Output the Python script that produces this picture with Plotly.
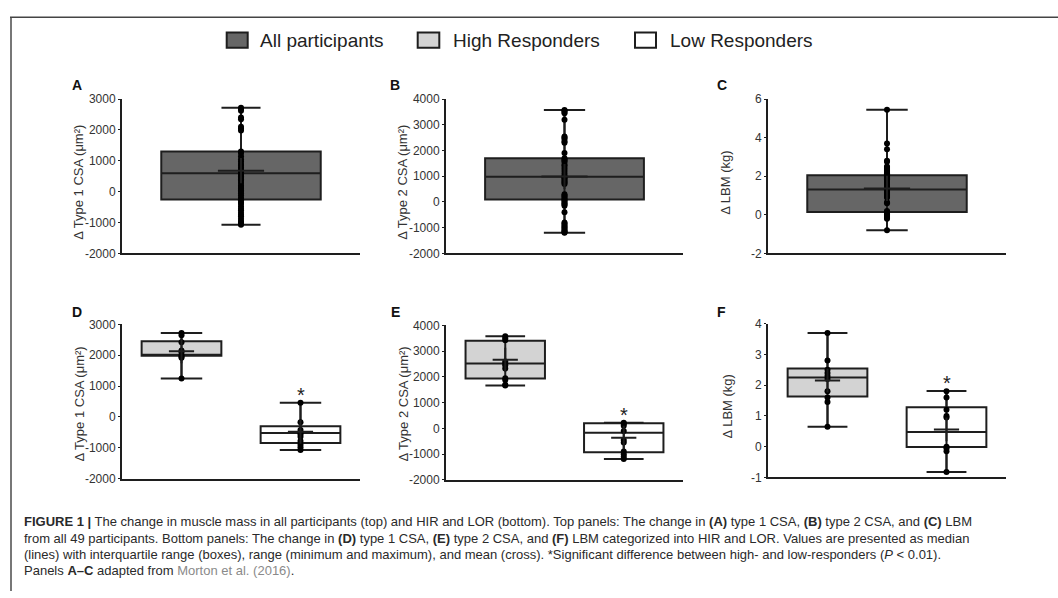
import plotly.graph_objects as go

W, H = 1058, 598

# ---------------- data ----------------
legend_labels = ["All participants", "High Responders", "Low Responders"]
group_colors = ["#666666", "#d3d3d3", "#ffffff"]

# top panels: all participants (49 each)
a_vals = [2720, 2680, 2620, 2400, 2350, 2100, 2050, 1980, 1300, 1250, 1150, 1050, 980, 900, 850,
          780, 720, 680, 620, 600, 560, 500, 450, 400, 350, 280, 200, 150, 100, 50, 0, -50, -120,
          -200, -250, -280, -350, -400, -480, -550, -600, -680, -750, -800, -880, -950, -1000,
          -1050, -1070]
b_vals = [3580, 3550, 3500, 3450, 3200, 2550, 2500, 2450, 2350, 2300, 1900, 1700, 1650, 1600, 1550,
          1450, 1400, 1300, 1200, 1100, 1000, 980, 950, 900, 850, 800, 750, 700, 300, 250, 200, 150,
          100, 50, 0, -50, -100, -150, -400, -800, -850, -900, -950, -1000, -1050, -1100, -1150,
          -1180, -1200]
c_vals = [5.45, 3.7, 3.4, 2.8, 2.75, 2.5, 2.45, 2.4, 2.35, 2.3, 2.25, 2.2, 2.15, 2.1, 2.0, 1.95,
          1.9, 1.85, 1.8, 1.7, 1.65, 1.6, 1.55, 1.5, 1.45, 1.4, 1.35, 1.3, 1.25, 1.2, 1.15, 1.1, 1.05,
          1.0, 0.95, 0.9, 0.65, 0.6, 0.2, 0.15, 0.1, 0.05, 0.0, 0.0, -0.05, -0.1, -0.15, -0.2, -0.8]
# stats: [min, q1, median, q3, max, mean]
a_stats = [-1070, -250, 600, 1300, 2720, 680]
b_stats = [-1200, 100, 980, 1700, 3580, 990]
c_stats = [-0.8, 0.14, 1.31, 2.05, 5.45, 1.37]

# bottom panels: high (HIR) and low (LOR) responders
d_hir_vals = [2720, 2650, 2420, 2150, 2100, 2000, 1950, 1920, 1250]
d_lor_vals = [460, -170, -420, -500, -560, -640, -780, -900, -980, -1070]
e_hir_vals = [3580, 3500, 3420, 2600, 2520, 2450, 2330, 1950, 1880, 1700, 1670]
e_lor_vals = [220, 180, 100, -100, -450, -550, -900, -1000, -1100, -1190]
f_hir_vals = [3.7, 2.8, 2.5, 2.4, 2.3, 2.2, 1.8, 1.6, 1.45, 0.65]
f_lor_vals = [1.8, 1.6, 1.2, 1.0, 0.95, 0.0, -0.05, -0.15, -0.82]
d_hir_stats = [1250, 1980, 2000, 2450, 2720, 2130]
d_lor_stats = [-1070, -840, -520, -300, 460, -480]
e_hir_stats = [1670, 1940, 2520, 3400, 3580, 2670]
e_lor_stats = [-1190, -920, -170, 200, 220, -360]
f_hir_stats = [0.65, 1.63, 2.25, 2.54, 3.7, 2.15]
f_lor_stats = [-0.82, -0.01, 0.48, 1.28, 1.81, 0.56]

# axes: ticks and titles
csa1_ticks = [-2000, -1000, 0, 1000, 2000, 3000]
csa2_ticks = [-2000, -1000, 0, 1000, 2000, 3000, 4000]
lbm_top_ticks = [-2, 0, 2, 4, 6]
lbm_bot_ticks = [-1, 0, 1, 2, 3, 4]
title_csa1 = "Δ Type 1 CSA (μm²)"
title_csa2 = "Δ Type 2 CSA (μm²)"
title_lbm = "Δ LBM (kg)"
panel_letters = ["A", "B", "C", "D", "E", "F"]

caption_lines = [
    "<b>FIGURE 1 |</b> The change in muscle mass in all participants (top) and HIR and LOR (bottom). "
    "Top panels: The change in <b>(A)</b> type 1 CSA, <b>(B)</b> type 2 CSA, and <b>(C)</b> LBM",
    "from all 49 participants. Bottom panels: The change in <b>(D)</b> type 1 CSA, <b>(E)</b> type 2 CSA, "
    "and <b>(F)</b> LBM categorized into HIR and LOR. Values are presented as median",
    "(lines) with interquartile range (boxes), range (minimum and maximum), and mean (cross). "
    "*Significant difference between high- and low-responders (<i>P</i> &lt; 0.01).",
    "Panels <b>A–C</b> adapted from <span style='color:#8a8a8a'>Morton et al. (2016)</span>.",
]

# ---------------- helpers ----------------
FONT = "Liberation Sans, Arial, sans-serif"
INK = "#1e1e1e"


def fx(p):
    return p / W


def fy(p):
    return 1 - p / H


def fmt(v):
    return str(v)


fig = go.Figure()


def add_group(ax, pos, vals, stats, color, boxwidth, whisk, cross_w, cross_h):
    xa = "x" if ax == 1 else f"x{ax}"
    ya = "y" if ax == 1 else f"y{ax}"
    mn, q1, med, q3, mx, mean = stats
    fig.add_trace(go.Box(
        x=[pos], q1=[q1], median=[med], q3=[q3], lowerfence=[mn], upperfence=[mx],
        width=boxwidth, whiskerwidth=whisk, fillcolor=color,
        line=dict(color=INK, width=2), boxpoints=False, showlegend=False,
        xaxis=xa, yaxis=ya, hoverinfo="skip"))
    fig.add_trace(go.Scatter(
        x=[pos, pos], y=[mn, mx], mode="lines", line=dict(color=INK, width=2),
        showlegend=False, xaxis=xa, yaxis=ya, hoverinfo="skip"))
    fig.add_trace(go.Scatter(
        x=[pos] * len(vals), y=vals, mode="markers",
        marker=dict(color="#000000", size=6), showlegend=False,
        xaxis=xa, yaxis=ya, hoverinfo="skip"))
    fig.add_trace(go.Scatter(
        x=[pos], y=[mean], mode="markers",
        marker=dict(symbol="line-ew", size=cross_w, line=dict(color=INK, width=2)),
        showlegend=False, xaxis=xa, yaxis=ya, hoverinfo="skip"))
    fig.add_trace(go.Scatter(
        x=[pos], y=[mean], mode="markers",
        marker=dict(symbol="line-ns", size=cross_h, line=dict(color=INK, width=2)),
        showlegend=False, xaxis=xa, yaxis=ya, hoverinfo="skip"))


# top row
add_group(1, 0, a_vals, a_stats, group_colors[0], 0.67, 0.245, 33, 18)
add_group(2, 0, b_vals, b_stats, group_colors[0], 0.67, 0.26, 33, 18)
add_group(3, 0, c_vals, c_stats, group_colors[0], 0.67, 0.26, 33, 18)
# bottom row
add_group(4, 0, d_hir_vals, d_hir_stats, group_colors[1], 0.67, 0.52, 18, 17)
add_group(4, 1, d_lor_vals, d_lor_stats, group_colors[2], 0.67, 0.52, 18, 17)
add_group(5, 0, e_hir_vals, e_hir_stats, group_colors[1], 0.67, 0.5, 18, 17)
add_group(5, 1, e_lor_vals, e_lor_stats, group_colors[2], 0.67, 0.5, 18, 17)
add_group(6, 0, f_hir_vals, f_hir_stats, group_colors[1], 0.67, 0.5, 18, 17)
add_group(6, 1, f_lor_vals, f_lor_stats, group_colors[2], 0.67, 0.5, 18, 17)

# axis geometry in pixels
panels = [
    # (x0, x1, ytop, ybot, ticks, ncat)
    (122, 360, 94.3, 252.3, csa1_ticks, 1),
    (446, 683, 94.3, 252.3, csa2_ticks, 1),
    (768, 1006, 94.3, 252.3, lbm_top_ticks, 1),
    (122, 360, 325, 483, csa1_ticks, 2),
    (446, 683, 326, 484.3, csa2_ticks, 2),
    (768, 1006, 324.3, 481.7, lbm_bot_ticks, 2),
]

layout = dict(
    width=W, height=H, margin=dict(l=0, r=0, t=0, b=0),
    paper_bgcolor="white", plot_bgcolor="white",
    boxmode="overlay", showlegend=False,
    font=dict(family=FONT, color="#333333", size=12),
)
for i, (x0, x1, yt, yb, ticks, ncat) in enumerate(panels, start=1):
    sfx = "" if i == 1 else str(i)
    layout[f"xaxis{sfx}"] = dict(
        domain=[fx(x0), fx(x1)], anchor=f"y{sfx}", range=[-0.5, ncat - 0.5],
        showline=True, linecolor=INK, linewidth=2, showgrid=False, zeroline=False,
        showticklabels=False, ticks="", fixedrange=True)
    layout[f"yaxis{sfx}"] = dict(
        domain=[fy(yb), fy(yt)], anchor=f"x{sfx}", range=[ticks[0], ticks[-1]],
        showline=True, linecolor=INK, linewidth=2, showgrid=False, zeroline=False,
        tickvals=ticks, ticktext=[fmt(t) for t in ticks], ticks="outside", ticklen=2,
        tickcolor=INK, tickwidth=1,
        tickfont=dict(family=FONT, size=12, color="#333333"), fixedrange=True)
fig.update_layout(**layout)

annotations = []
# panel letters
letter_pos = [(77, 80), (395, 80), (722, 80), (77, 312), (395, 312), (721, 312)]
for letter, (px, py) in zip(panel_letters, letter_pos):
    annotations.append(dict(x=fx(px), y=fy(py), xref="paper", yref="paper", text=f"<b>{letter}</b>",
                            showarrow=False, font=dict(family=FONT, size=14, color="#111111"),
                            xanchor="center", yanchor="middle"))
# y-axis titles
titles = [title_csa1, title_csa2, title_lbm, title_csa1, title_csa2, title_lbm]
title_pos = [(79, 180), (403, 180), (726, 180), (79, 407), (403, 407), (727, 409)]
for t, (px, py) in zip(titles, title_pos):
    annotations.append(dict(x=fx(px), y=fy(py), xref="paper", yref="paper", text=t, textangle=-90,
                            showarrow=False, font=dict(family=FONT, size=13, color="#333333"),
                            xanchor="center", yanchor="middle"))
# significance asterisks above LOR boxes
for ax, stats in [(4, d_lor_stats), (5, e_lor_stats), (6, f_lor_stats)]:
    annotations.append(dict(x=1, y=stats[4], xref=f"x{ax}", yref=f"y{ax}", text="*",
                            showarrow=False, yshift=8,
                            font=dict(family=FONT, size=20, color="#222222"),
                            xanchor="center", yanchor="middle"))
# legend
legend_x = [(226.7, 247.7, 258), (417.7, 439.3, 451), (635, 656, 668)]
shapes = []
for label, color, (bx0, bx1, tx) in zip(legend_labels, group_colors, legend_x):
    shapes.append(dict(type="rect", xref="paper", yref="paper", x0=fx(bx0), x1=fx(bx1),
                       y0=fy(41.7), y1=fy(26), fillcolor=color, line=dict(color=INK, width=2)))
    annotations.append(dict(x=fx(tx), y=fy(34), xref="paper", yref="paper", text=label,
                            showarrow=False, font=dict(family=FONT, size=19, color="#222222"),
                            xanchor="left", yanchor="middle"))
# caption
cap_y = [527, 544, 561, 577]
for line, cy in zip(caption_lines, cap_y):
    annotations.append(dict(x=fx(22), y=fy(cy), xref="paper", yref="paper", text=line,
                            showarrow=False, align="left",
                            font=dict(family=FONT, size=13, color="#2a2a2a"),
                            xanchor="left", yanchor="middle"))
# frame
shapes.append(dict(type="line", xref="paper", yref="paper", x0=fx(11), x1=fx(11), y0=0, y1=fy(10.5),
                   line=dict(color="#777777", width=2)))
shapes.append(dict(type="line", xref="paper", yref="paper", x0=fx(10), x1=1, y0=fy(10.5), y1=fy(10.5),
                   line=dict(color="#444444", width=1.5)))

fig.update_layout(annotations=annotations, shapes=shapes)
fig.write_html("out.html")
